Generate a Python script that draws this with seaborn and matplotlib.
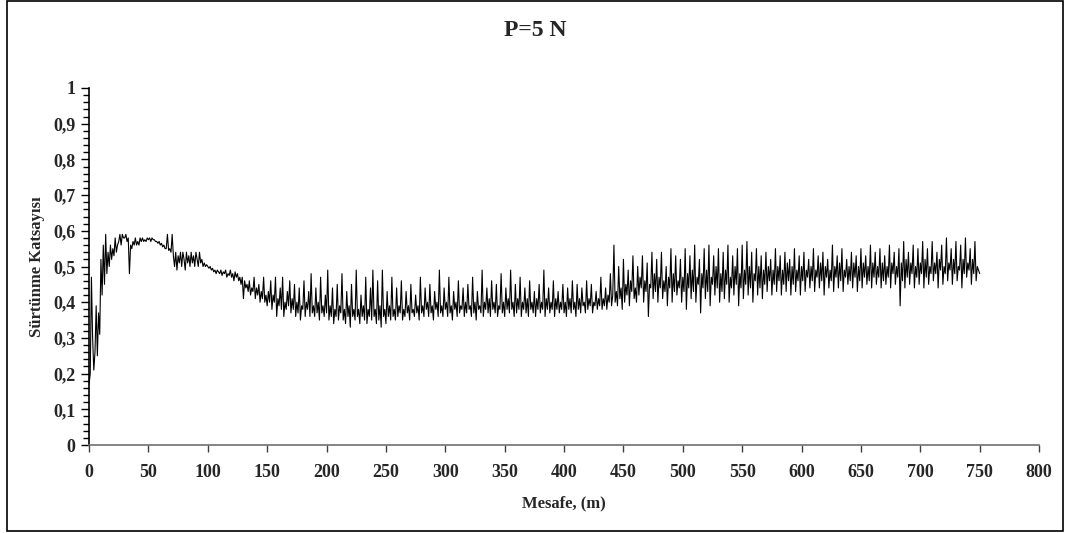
import numpy as np
import matplotlib
matplotlib.use('Agg')

import matplotlib.pyplot as plt
import seaborn as sns
from matplotlib.ticker import MultipleLocator, FixedLocator, FixedFormatter
from matplotlib.patches import Rectangle

# -------------------------
# Data (one value per metre)
# -------------------------

mu_000 = [0.17, 0.20, 0.47, 0.30, 0.21, 0.26, 0.39, 0.25, 0.37, 0.31,
          0.52, 0.42, 0.56, 0.45, 0.59, 0.48, 0.54, 0.50, 0.56, 0.52,
          0.55, 0.53, 0.58, 0.54, 0.56, 0.57, 0.59, 0.56, 0.59, 0.58,
          0.58, 0.59, 0.57, 0.58, 0.48, 0.56, 0.55, 0.57, 0.56, 0.58,
          0.56, 0.57, 0.56, 0.58, 0.57, 0.58, 0.57, 0.575, 0.57, 0.58]
mu_050 = [0.575, 0.58, 0.57, 0.58, 0.575, 0.575, 0.57, 0.57, 0.565, 0.57,
          0.56, 0.565, 0.555, 0.56, 0.55, 0.55, 0.59, 0.545, 0.55, 0.54,
          0.59, 0.53, 0.50, 0.54, 0.49, 0.53, 0.51, 0.54, 0.50, 0.54,
          0.52, 0.49, 0.54, 0.51, 0.53, 0.50, 0.54, 0.51, 0.53, 0.50,
          0.54, 0.52, 0.50, 0.54, 0.51, 0.52, 0.50, 0.51, 0.50, 0.505]
mu_100 = [0.50, 0.495, 0.50, 0.49, 0.495, 0.485, 0.49, 0.48, 0.49, 0.485,
          0.48, 0.49, 0.475, 0.485, 0.48, 0.49, 0.47, 0.48, 0.475, 0.49,
          0.47, 0.48, 0.46, 0.485, 0.47, 0.48, 0.46, 0.47, 0.45, 0.47,
          0.41, 0.46, 0.44, 0.45, 0.43, 0.46, 0.42, 0.44, 0.43, 0.47,
          0.41, 0.44, 0.42, 0.45, 0.40, 0.43, 0.41, 0.47, 0.40, 0.42]
mu_150 = [0.39, 0.43, 0.40, 0.46, 0.38, 0.42, 0.40, 0.47, 0.36, 0.41,
          0.39, 0.44, 0.38, 0.47, 0.36, 0.40, 0.38, 0.43, 0.39, 0.46,
          0.37, 0.41, 0.38, 0.45, 0.36, 0.40, 0.37, 0.44, 0.35, 0.39,
          0.38, 0.46, 0.36, 0.40, 0.38, 0.43, 0.36, 0.48, 0.37, 0.39,
          0.36, 0.44, 0.37, 0.40, 0.35, 0.47, 0.37, 0.39, 0.36, 0.42]
mu_200 = [0.37, 0.49, 0.35, 0.39, 0.36, 0.44, 0.34, 0.38, 0.36, 0.45,
          0.35, 0.39, 0.37, 0.48, 0.35, 0.38, 0.34, 0.43, 0.36, 0.39,
          0.33, 0.45, 0.36, 0.38, 0.35, 0.49, 0.36, 0.38, 0.34, 0.42,
          0.36, 0.39, 0.35, 0.47, 0.34, 0.38, 0.36, 0.44, 0.35, 0.49,
          0.36, 0.38, 0.34, 0.46, 0.35, 0.39, 0.33, 0.49, 0.36, 0.38]
mu_250 = [0.34, 0.43, 0.36, 0.39, 0.35, 0.47, 0.36, 0.38, 0.35, 0.44,
          0.36, 0.39, 0.37, 0.46, 0.35, 0.38, 0.36, 0.43, 0.37, 0.39,
          0.35, 0.45, 0.37, 0.38, 0.36, 0.42, 0.37, 0.39, 0.35, 0.47,
          0.37, 0.39, 0.36, 0.44, 0.38, 0.40, 0.36, 0.45, 0.37, 0.39,
          0.35, 0.43, 0.38, 0.40, 0.36, 0.49, 0.37, 0.39, 0.36, 0.44]
mu_300 = [0.38, 0.40, 0.36, 0.47, 0.37, 0.39, 0.35, 0.43, 0.38, 0.40,
          0.36, 0.46, 0.37, 0.39, 0.38, 0.44, 0.36, 0.40, 0.37, 0.45,
          0.38, 0.39, 0.36, 0.47, 0.37, 0.40, 0.35, 0.43, 0.38, 0.39,
          0.37, 0.49, 0.36, 0.40, 0.38, 0.44, 0.37, 0.41, 0.36, 0.46,
          0.38, 0.40, 0.37, 0.45, 0.36, 0.39, 0.38, 0.48, 0.37, 0.40]
mu_350 = [0.36, 0.44, 0.38, 0.41, 0.37, 0.49, 0.38, 0.40, 0.36, 0.45,
          0.37, 0.41, 0.38, 0.47, 0.36, 0.40, 0.38, 0.44, 0.37, 0.41,
          0.36, 0.46, 0.38, 0.40, 0.37, 0.43, 0.36, 0.41, 0.38, 0.45,
          0.37, 0.40, 0.38, 0.49, 0.36, 0.41, 0.38, 0.44, 0.37, 0.40,
          0.38, 0.46, 0.36, 0.41, 0.38, 0.43, 0.37, 0.40, 0.38, 0.45]
mu_400 = [0.37, 0.40, 0.36, 0.44, 0.38, 0.41, 0.37, 0.46, 0.38, 0.40,
          0.36, 0.45, 0.38, 0.41, 0.37, 0.44, 0.39, 0.40, 0.37, 0.46,
          0.38, 0.41, 0.39, 0.45, 0.37, 0.40, 0.39, 0.43, 0.38, 0.41,
          0.39, 0.47, 0.38, 0.41, 0.39, 0.44, 0.38, 0.42, 0.40, 0.48,
          0.39, 0.42, 0.56, 0.40, 0.43, 0.39, 0.50, 0.41, 0.44, 0.38]
mu_450 = [0.52, 0.40, 0.45, 0.42, 0.49, 0.39, 0.46, 0.43, 0.53, 0.41,
          0.44, 0.40, 0.50, 0.42, 0.47, 0.44, 0.53, 0.40, 0.46, 0.43,
          0.51, 0.36, 0.45, 0.44, 0.54, 0.41, 0.48, 0.43, 0.52, 0.40,
          0.47, 0.44, 0.54, 0.41, 0.46, 0.43, 0.50, 0.39, 0.47, 0.44,
          0.55, 0.40, 0.48, 0.43, 0.53, 0.42, 0.46, 0.44, 0.52, 0.40]
mu_500 = [0.47, 0.43, 0.55, 0.38, 0.48, 0.44, 0.53, 0.41, 0.49, 0.43,
          0.56, 0.40, 0.47, 0.45, 0.52, 0.37, 0.48, 0.44, 0.55, 0.41,
          0.49, 0.43, 0.56, 0.39, 0.47, 0.45, 0.53, 0.42, 0.50, 0.44,
          0.55, 0.40, 0.48, 0.43, 0.54, 0.41, 0.49, 0.45, 0.56, 0.40,
          0.47, 0.44, 0.53, 0.42, 0.50, 0.45, 0.55, 0.39, 0.48, 0.44]
mu_550 = [0.56, 0.41, 0.49, 0.45, 0.57, 0.42, 0.50, 0.44, 0.54, 0.40,
          0.48, 0.46, 0.55, 0.42, 0.50, 0.44, 0.53, 0.41, 0.49, 0.45,
          0.54, 0.43, 0.50, 0.46, 0.52, 0.42, 0.49, 0.45, 0.55, 0.43,
          0.50, 0.46, 0.53, 0.42, 0.49, 0.45, 0.54, 0.43, 0.51, 0.46,
          0.52, 0.42, 0.50, 0.45, 0.55, 0.43, 0.49, 0.46, 0.53, 0.42]
mu_600 = [0.50, 0.46, 0.54, 0.43, 0.49, 0.47, 0.52, 0.44, 0.50, 0.46,
          0.55, 0.43, 0.49, 0.47, 0.53, 0.44, 0.51, 0.46, 0.54, 0.42,
          0.50, 0.47, 0.52, 0.44, 0.49, 0.46, 0.56, 0.43, 0.50, 0.47,
          0.53, 0.44, 0.51, 0.46, 0.55, 0.43, 0.49, 0.47, 0.52, 0.45,
          0.50, 0.46, 0.54, 0.44, 0.51, 0.47, 0.53, 0.43, 0.50, 0.46]
mu_650 = [0.55, 0.44, 0.51, 0.47, 0.53, 0.45, 0.50, 0.46, 0.56, 0.44,
          0.51, 0.47, 0.54, 0.45, 0.50, 0.47, 0.55, 0.44, 0.51, 0.46,
          0.53, 0.45, 0.50, 0.47, 0.56, 0.44, 0.51, 0.48, 0.54, 0.45,
          0.50, 0.47, 0.55, 0.39, 0.51, 0.46, 0.57, 0.44, 0.52, 0.47,
          0.54, 0.45, 0.51, 0.48, 0.56, 0.44, 0.50, 0.47, 0.55, 0.45]
mu_700 = [0.51, 0.48, 0.57, 0.44, 0.52, 0.47, 0.55, 0.45, 0.50, 0.48,
          0.57, 0.46, 0.51, 0.48, 0.54, 0.44, 0.52, 0.49, 0.56, 0.45,
          0.50, 0.48, 0.58, 0.46, 0.51, 0.49, 0.55, 0.45, 0.52, 0.48,
          0.57, 0.46, 0.50, 0.49, 0.56, 0.44, 0.52, 0.48, 0.58, 0.47,
          0.51, 0.49, 0.55, 0.45, 0.52, 0.48, 0.57, 0.46, 0.50, 0.49,
          0.48]

friction = (mu_000 + mu_050 + mu_100 + mu_150 + mu_200 + mu_250 + mu_300
            + mu_350 + mu_400 + mu_450 + mu_500 + mu_550 + mu_600 + mu_650
            + mu_700)
distance = np.arange(len(friction))

y_ticks = [0, 0.1, 0.2, 0.3, 0.4, 0.5, 0.6, 0.7, 0.8, 0.9, 1.0]
y_tick_labels = ["0", "0,1", "0,2", "0,3", "0,4", "0,5", "0,6", "0,7", "0,8", "0,9", "1"]
x_ticks = list(range(0, 801, 50))

# -------------------------
# Plot
# -------------------------

sns.set_style("white")
plt.rcParams['font.family'] = ['Liberation Serif', 'DejaVu Serif']
plt.rcParams['font.weight'] = 'bold'

fig = plt.figure(figsize=(10.69, 5.33), dpi=100)
ax = fig.add_axes([0.0833, 0.165, 0.8887, 0.670])

sns.lineplot(x=distance, y=friction, ax=ax, color='black', linewidth=0.8)

ax.set_xlim(0, 800)
ax.set_ylim(0, 1)
ax.xaxis.set_major_locator(FixedLocator(x_ticks))
ax.yaxis.set_major_locator(FixedLocator(y_ticks))
ax.yaxis.set_major_formatter(FixedFormatter(y_tick_labels))
ax.yaxis.set_minor_locator(MultipleLocator(0.02))

for side in ['top', 'right']:
    ax.spines[side].set_visible(False)
ax.spines['left'].set_color('black')
ax.spines['left'].set_linewidth(1.2)
ax.spines['bottom'].set_color('#707070')
ax.spines['bottom'].set_linewidth(1.2)

ax.tick_params(axis='y', which='major', direction='out', length=6, width=1,
               color='black', labelsize=13, pad=4, left=True)
ax.tick_params(axis='y', which='minor', direction='out', length=4, width=1,
               color='black', left=True)
ax.tick_params(axis='x', which='major', direction='out', length=5, width=1,
               color='#404040', labelsize=13, pad=9, bottom=True)
for lbl in ax.get_xticklabels() + ax.get_yticklabels():
    lbl.set_fontweight('bold')

ax.set_xlabel("Mesafe, (m)", fontsize=12, fontweight='bold', labelpad=10)
ax.set_ylabel("Sürtünme Katsayısı", fontsize=12, fontweight='bold', labelpad=6)
fig.text(0.5005, 0.942, "P=5 N", ha='center', va='center', fontsize=17, fontweight='bold')

fig.patches.append(Rectangle((0.0065, 0.004), 0.988, 0.994, transform=fig.transFigure,
                             fill=False, edgecolor='black', linewidth=1.2))

fig.savefig("out.png", dpi=100)
plt.close()
